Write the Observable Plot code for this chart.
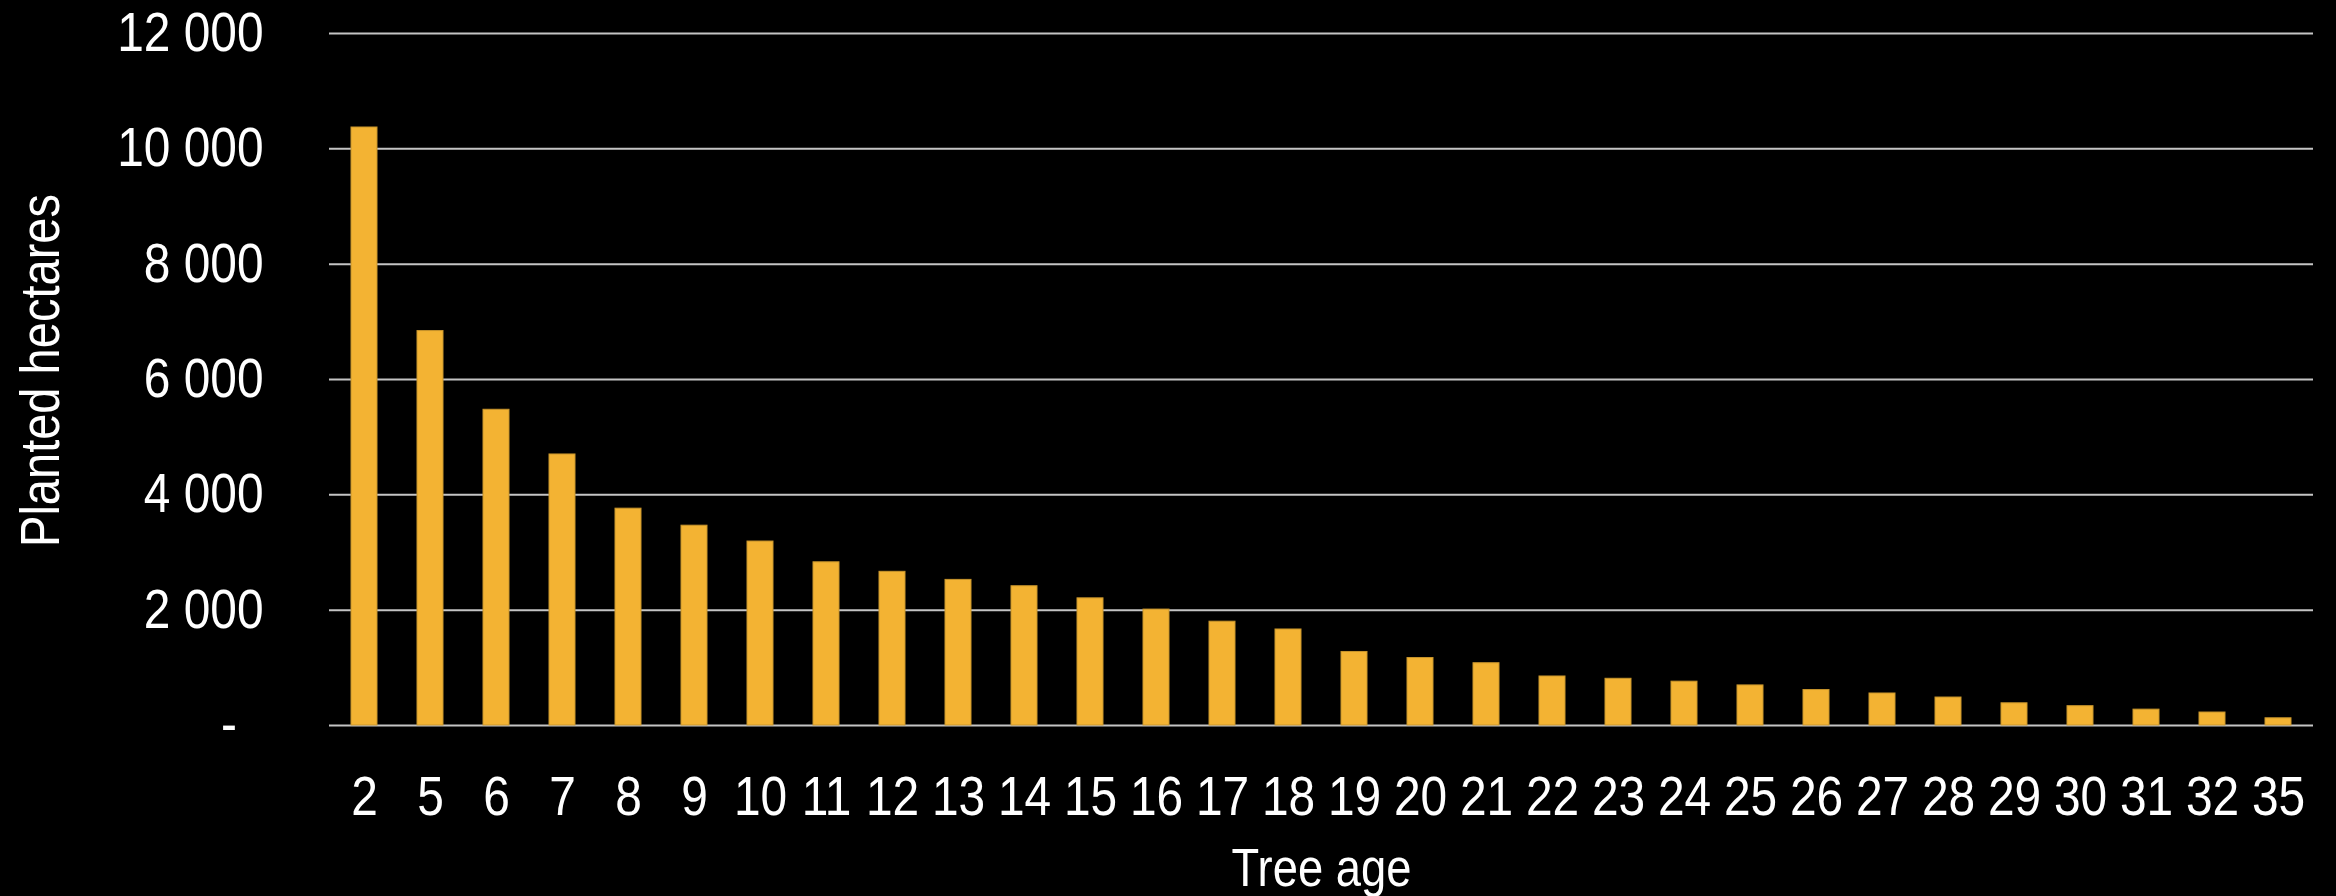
<!DOCTYPE html>
<html>
<head>
<meta charset="utf-8">
<script src="https://cdn.jsdelivr.net/npm/d3@7"></script>
<script src="https://cdn.jsdelivr.net/npm/@observablehq/plot@0.6"></script>
<style>
  html, body { margin: 0; padding: 0; background: #000; }
</style>
</head>
<body>
<div id="chart"></div>
<script>
// Planted area by tree age
const ages = ["2", "5", "6", "7", "8", "9", "10", "11", "12", "13", "14", "15", "16", "17", "18",
              "19", "20", "21", "22", "23", "24", "25", "26", "27", "28", "29", "30", "31", "32", "35"];
const hectares = [10370, 6840, 5475, 4700, 3760, 3465, 3190, 2830, 2665, 2525, 2415, 2205, 2010, 1800, 1665,
                  1275, 1170, 1080, 850, 810, 760, 695, 615, 555, 485, 385, 335, 275, 225, 125];
const yTicks = [0, 2000, 4000, 6000, 8000, 10000, 12000];
const yTitle = "Planted hectares";
const xTitle = "Tree age";

const rows = ages.map((age, i) => ({age, ha: hectares[i]}));

// thousands grouped with a space; zero shown as a dash
const group = d3.formatLocale({decimal: ".", thousands: " ", grouping: [3], currency: ["", ""]}).format(",d");
const tickFormat = d => d === 0 ? "-\u2007" : group(d);

const font = "'Liberation Sans Narrow', 'Arial Narrow', 'Liberation Sans', Arial, sans-serif";

const chart = Plot.plot({
  width: 2336,
  height: 896,
  marginLeft: 329,
  marginRight: 23,
  marginTop: 33,
  marginBottom: 171,
  style: {background: "#000", color: "#fff", fontFamily: font},
  x: {domain: ages, paddingInner: 0.6, paddingOuter: 0.3},
  y: {domain: [0, 12000]},
  marks: [
    Plot.gridY(yTicks, {stroke: "#c4c4c4", strokeOpacity: 1, strokeWidth: 2}),
    Plot.barY(rows, {x: "age", y: "ha", fill: "#F3B333", stroke: "#c8952c", strokeWidth: 1}),
    Plot.axisY(yTicks, {tickSize: 0, tickPadding: 66, tickFormat, fontSize: 55, fill: "#fff", label: null}),
    Plot.axisX({tickSize: 0, tickPadding: 50, fontSize: 55, fill: "#fff", label: null}),
    Plot.text([yTitle], {text: d => d, frameAnchor: "left", rotate: -90, dx: -271, dy: -9,
                         lineAnchor: "bottom", textAnchor: "middle", fontSize: 56, fill: "#fff"}),
    Plot.text([xTitle], {text: d => d, frameAnchor: "bottom", dy: 160, lineAnchor: "bottom",
                         textAnchor: "middle", fontSize: 54, fill: "#fff"})
  ]
});

// No narrow face is available, so condense every label horizontally about its anchor
chart.querySelectorAll("text").forEach(t => {
  const g = t.closest("g[aria-label]");
  const isTick = g && /tick label/.test(g.getAttribute("aria-label"));
  const sx = isTick ? 0.87 : 0.84;
  const tr = t.getAttribute("transform") || "";
  t.setAttribute("transform", `${tr} scale(${sx},1)`.trim());
});

document.getElementById("chart").appendChild(chart);
</script>
</body>
</html>
